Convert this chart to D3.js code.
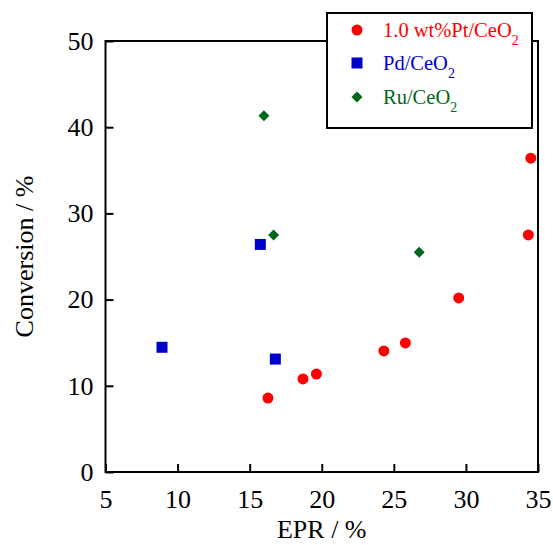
<!DOCTYPE html>
<html><head><meta charset="utf-8">
<script src="https://cdn.jsdelivr.net/npm/d3@7"></script>
<style>body{margin:0;background:#fff;} svg{display:block;}</style>
</head><body>
<svg id="chart" width="553" height="545"></svg>
<script>
const ptX = [16.27, 18.7, 19.63, 24.31, 25.8, 29.5, 34.33, 34.5];
const ptY = [8.58, 10.8, 11.37, 14.04, 14.97, 20.2, 27.5, 36.4];
const pdX = [8.92, 15.74, 16.78];
const pdY = [14.47, 26.4, 13.1];
const ruX = [15.99, 16.66, 26.76];
const ruY = [41.33, 27.49, 25.49];
const xTicks = [5, 10, 15, 20, 25, 30, 35];
const yTicks = [0, 10, 20, 30, 40, 50];
const seriesNames = ["1.0 wt%Pt/CeO", "Pd/CeO", "Ru/CeO"];
const seriesColors = ["#ff0000", "#0000cc", "#006619"];

const svg = d3.select("#chart");
const font = "'Liberation Serif', 'Times New Roman', serif";
const m = {l: 105.5, r: 538, t: 41, b: 472};
const x = d3.scaleLinear().domain([5, 35]).range([m.l, m.r]);
const y = d3.scaleLinear().domain([0, 50]).range([m.b, m.t]);

// axes with inward ticks
const xAxis = svg.append("g").attr("transform", `translate(0,${m.b})`)
  .call(d3.axisBottom(x).tickValues(xTicks).tickSizeInner(-8).tickSizeOuter(0).tickPadding(18));
const yAxis = svg.append("g").attr("transform", `translate(${m.l},0)`)
  .call(d3.axisLeft(y).tickValues(yTicks).tickSizeInner(-8).tickSizeOuter(0).tickPadding(12));
[xAxis, yAxis].forEach(a => {
  a.select(".domain").remove();
  a.selectAll("line").attr("stroke", "#000").attr("stroke-width", 2);
  a.selectAll("text").attr("font-family", font).attr("font-size", 26).attr("fill", "#000");
});
xAxis.selectAll("text").attr("dy", "0.71em");
// frame
svg.append("rect").attr("x", m.l).attr("y", m.t).attr("width", m.r - m.l).attr("height", m.b - m.t)
  .attr("fill", "none").attr("stroke", "#000").attr("stroke-width", 2);

// axis labels
svg.append("text").attr("x", (m.l + m.r) / 2).attr("y", 538).attr("text-anchor", "middle")
  .attr("font-family", font).attr("font-size", 26).text("EPR / %");
svg.append("text").attr("transform", `translate(33,${(m.t + m.b) / 2}) rotate(-90)`)
  .attr("text-anchor", "middle").attr("font-family", font).attr("font-size", 26).text("Conversion / %");

// data
const g = svg.append("g");
g.selectAll("circle.pt").data(ptX.map((v, i) => [v, ptY[i]])).enter().append("circle")
  .attr("cx", d => x(d[0])).attr("cy", d => y(d[1])).attr("r", 5.5).attr("fill", seriesColors[0]);
g.selectAll("rect.pd").data(pdX.map((v, i) => [v, pdY[i]])).enter().append("rect")
  .attr("x", d => x(d[0]) - 5.5).attr("y", d => y(d[1]) - 5.5).attr("width", 11).attr("height", 11)
  .attr("fill", seriesColors[1]);
const diamond = d3.symbol().type(d3.symbolSquare).size(60);
g.selectAll("path.ru").data(ruX.map((v, i) => [v, ruY[i]])).enter().append("path")
  .attr("d", diamond).attr("transform", d => `translate(${x(d[0])},${y(d[1])}) rotate(45)`)
  .attr("fill", seriesColors[2]);

// legend
const lg = svg.append("g");
lg.append("rect").attr("x", 327).attr("y", 13).attr("width", 205).attr("height", 115)
  .attr("fill", "#fff").attr("stroke", "#000").attr("stroke-width", 2);
const rowY = [30, 63, 97];
lg.append("circle").attr("cx", 357).attr("cy", rowY[0]).attr("r", 5.5).attr("fill", seriesColors[0]);
lg.append("rect").attr("x", 351.5).attr("y", rowY[1] - 5.5).attr("width", 11).attr("height", 11).attr("fill", seriesColors[1]);
lg.append("path").attr("d", diamond).attr("transform", `translate(357,${rowY[2]}) rotate(45)`).attr("fill", seriesColors[2]);
seriesNames.forEach((n, i) => {
  const t = lg.append("text").attr("x", 383).attr("y", rowY[i] + 7)
    .attr("font-family", font).attr("font-size", 20.5).attr("fill", seriesColors[i]).text(n);
  t.append("tspan").attr("font-size", 14).attr("dy", 8).text("2");
});
</script>
</body></html>
